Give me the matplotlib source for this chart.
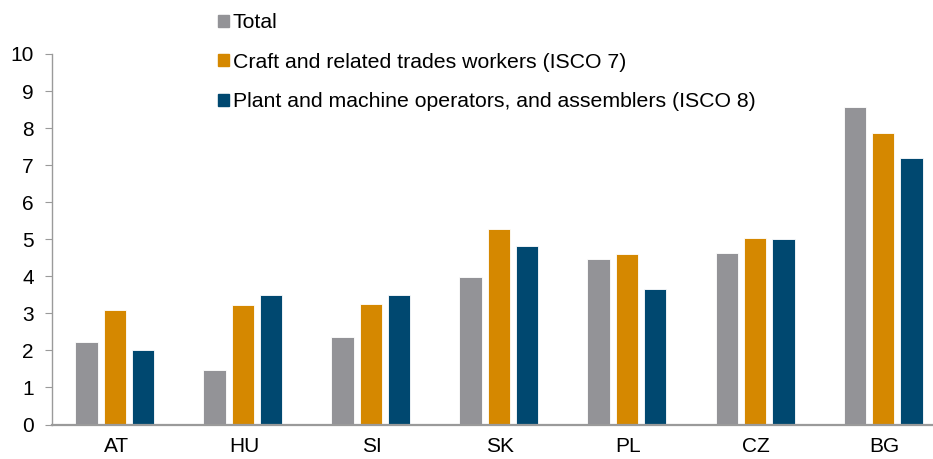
import matplotlib
matplotlib.use("Agg")
import matplotlib.pyplot as plt
import numpy as np
from matplotlib.patches import Patch

plt.rcParams['font.family'] = ['Liberation Sans', 'DejaVu Sans']

countries = ['AT', 'HU', 'SI', 'SK', 'PL', 'CZ', 'BG']
total = [2.24, 1.46, 2.35, 3.98, 4.46, 4.64, 8.58]
isco7 = [3.09, 3.22, 3.25, 5.29, 4.60, 5.04, 7.86]
isco8 = [2.02, 3.50, 3.49, 4.82, 3.65, 5.02, 7.20]

labels = ['Total',
          'Craft and related trades workers (ISCO 7)',
          'Plant and machine operators, and assemblers (ISCO 8)']
colors = ['#939397', '#D58800', '#004870']

fig = plt.figure(figsize=(9.33, 4.59), dpi=100)
ax = fig.add_axes([52 / 933, 34.5 / 459, 1 - 52 / 933, (424.5 - 54) / 459])

x = np.arange(len(countries))
step = 0.221
width = 0.175
for i, (vals, col) in enumerate(zip([total, isco7, isco8], colors)):
    ax.bar(x + (i - 1) * step - 0.01, vals, width=width, color=col,
           edgecolor='white', linewidth=0.6, label=labels[i])

ax.set_xlim(-0.5, 6.38)
ax.set_ylim(0, 10)
ax.set_yticks(range(0, 11))
ax.set_xticks(x)
ax.set_xticklabels(countries)

for s in ['top', 'right']:
    ax.spines[s].set_visible(False)
for s in ['left', 'bottom']:
    ax.spines[s].set_color('#9a9a9a')
ax.spines['left'].set_linewidth(1.0)
ax.spines['bottom'].set_linewidth(1.6)
ax.tick_params(axis='y', length=5, color='#9a9a9a', labelsize=15, pad=8)
ax.tick_params(axis='x', length=0, labelsize=15, pad=9)

handles = [Patch(color=c) for c in colors]
fig.legend(handles, labels, loc='upper left', bbox_to_anchor=(218 / 933, 1 - 13.5 / 459),
           frameon=False, fontsize=15.3, handlelength=0.5, handleheight=0.5,
           handletextpad=0.2, labelspacing=0.96, borderaxespad=0, borderpad=0)

fig.savefig('out.png', dpi=100)
